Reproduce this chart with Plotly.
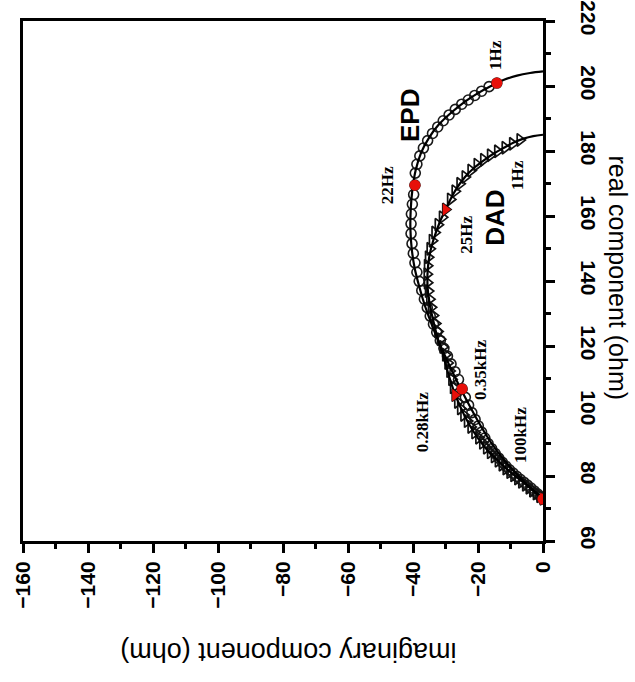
import plotly.graph_objects as go

# Impedance spectra (Nyquist), imaginary vs real component in ohm
epd_imag = [-14.2, -16.6, -18.9, -21.0, -23.0, -25.0, -27.0, -28.9, -30.7, -32.4,
            -34.0, -35.5, -36.8, -37.9, -38.8, -39.3, -39.4, -39.8, -40.2, -40.5,
            -40.6, -40.6, -40.3, -39.9, -39.4, -38.8, -38.1, -37.3, -36.5, -35.6,
            -34.7, -33.7, -32.7, -31.6, -30.5, -29.4, -28.3, -27.1, -26.0, -24.9,
            -23.9, -22.9, -21.9, -20.9, -19.9, -18.9, -17.9, -16.9, -15.8, -14.7,
            -13.6, -12.5, -11.4, -10.3, -9.2, -8.1, -7.0, -5.9, -4.8, -3.7,
            -2.7, -1.7, -0.8, 0.0]
epd_real = [200.9, 199.8, 198.4, 197.1, 195.7, 194.4, 192.8, 191.1, 189.3, 187.4,
            185.4, 183.2, 180.9, 178.5, 175.9, 173.2, 169.5, 166.6, 163.6, 160.6,
            157.6, 154.6, 151.5, 148.5, 145.6, 142.7, 139.9, 137.1, 134.4, 131.8,
            129.2, 126.7, 124.2, 121.7, 119.3, 116.9, 114.5, 112.1, 109.7, 106.8,
            104.2, 101.8, 99.5, 97.4, 95.4, 93.5, 91.7, 90.0, 88.4, 86.9,
            85.5, 84.2, 83.0, 81.9, 80.9, 79.9, 79.0, 78.1, 77.2, 76.3,
            75.4, 74.5, 73.7, 72.9]

dad_imag = [-7.1, -9.4, -11.7, -14.0, -16.2, -18.3, -20.3, -22.2, -24.0, -25.6,
            -27.1, -28.5, -30.0, -31.0, -32.3, -33.3, -34.1, -34.8, -35.3, -35.6,
            -35.7, -35.6, -35.3, -34.9, -34.4, -33.8, -33.1, -32.4, -31.6, -30.8,
            -30.0, -29.3, -28.7, -28.1, -27.6, -27.1, -26.3, -25.4, -24.4, -23.3,
            -22.2, -21.0, -19.8, -18.6, -17.4, -16.2, -15.0, -13.8, -12.6, -11.4,
            -10.2, -9.0, -7.8, -6.6, -5.4, -4.3, -3.2, -2.1, -1.0, 0.0]
dad_real = [183.4, 182.2, 181.0, 179.9, 178.7, 177.3, 175.8, 174.0, 172.0, 169.9,
            167.6, 165.1, 162.0, 159.6, 157.3, 154.9, 152.4, 149.9, 147.3, 144.7,
            142.1, 139.5, 136.9, 134.4, 131.9, 129.4, 126.9, 124.5, 122.1, 119.7,
            117.3, 114.8, 112.3, 109.8, 107.3, 104.9, 102.8, 100.8, 98.8, 96.9,
            95.1, 93.4, 91.8, 90.2, 88.7, 87.3, 86.0, 84.7, 83.5, 82.3,
            81.2, 80.2, 79.2, 78.2, 77.3, 76.4, 75.5, 74.6, 73.8, 73.0]

# equivalent-circuit fit curves
epd_fit_imag = [0, -4, -8, -12, -16, -20, -24, -28, -32, -35, -37.5, -39.2, -40.2,
                -40.7, -40.8, -40.4, -39.5, -38.0, -36.2, -34.0, -31.5, -28.8,
                -25.9, -22.8, -19.5, -15.8, -12.0, -8.0, -4.0, 0]
epd_fit_real = [204.5, 204.0, 203.2, 201.9, 200.0, 197.8, 195.2, 192.0, 188.2,
                184.2, 179.5, 174.0, 168.0, 162.0, 156.0, 150.0, 144.0, 138.0,
                132.0, 126.0, 120.0, 114.0, 108.0, 102.0, 96.0, 90.0, 85.0, 80.5,
                76.5, 72.9]
dad_fit_imag = [0, -3, -6, -9, -12, -15, -18, -21, -24, -27, -29.5, -31.8, -33.6,
                -34.9, -35.5, -35.5, -34.9, -33.8, -32.3, -30.7, -29.0, -27.0,
                -24.6, -21.6, -18.0, -14.0, -10.0, -6.0, -2.5, 0]
dad_fit_real = [185.0, 184.6, 183.8, 182.6, 181.0, 179.3, 177.3, 175.0, 172.0,
                167.8, 163.0, 158.0, 153.0, 148.0, 143.0, 138.0, 133.0, 128.0,
                122.0, 117.0, 111.0, 105.0, 99.5, 94.0, 89.0, 84.8, 81.2, 78.0,
                75.2, 73.0]

# highlighted frequencies (index into the series above)
epd_marked = [0, 16, 39, 63]     # 1Hz, 22Hz, 0.35kHz, 100kHz
dad_marked = [12, 35, 59]        # 25Hz, 0.28kHz, 100kHz

freq_labels = ["1Hz", "22Hz", "0.35kHz", "1Hz", "25Hz", "0.28kHz", "100kHz"]
freq_label_imag = [-14.8, -48.0, -19.4, -8.0, -23.4, -37.2, -7.1]
freq_label_real = [209.5, 169.5, 112.6, 172.6, 154.2, 96.6, 92.6]

series_names = ["EPD", "DAD"]
series_label_imag = [-40.9, -14.8]
series_label_real = [190.8, 159.4]

fig = go.Figure()

fig.add_trace(go.Scatter(x=epd_imag, y=epd_real, mode="markers", name="EPD",
                         marker=dict(symbol="circle-open", size=10, color="#1a1a1a",
                                     line=dict(width=1.6))))
fig.add_trace(go.Scatter(x=dad_imag, y=dad_real, mode="markers", name="DAD",
                         marker=dict(symbol="triangle-right-open", size=11, color="#111",
                                     line=dict(width=1.7))))
fig.add_trace(go.Scatter(x=epd_fit_imag, y=epd_fit_real, mode="lines",
                         line=dict(color="black", width=2.2, shape="spline")))
fig.add_trace(go.Scatter(x=dad_fit_imag, y=dad_fit_real, mode="lines",
                         line=dict(color="black", width=2.2, shape="spline")))
fig.add_trace(go.Scatter(x=[epd_imag[i] for i in epd_marked],
                         y=[epd_real[i] for i in epd_marked], mode="markers",
                         marker=dict(symbol="circle", size=11, color="#e8100a")))
fig.add_trace(go.Scatter(x=[dad_imag[i] for i in dad_marked],
                         y=[dad_real[i] for i in dad_marked], mode="markers",
                         marker=dict(symbol="triangle-right", size=11, color="#e8100a")))

for t, x, y in zip(freq_labels, freq_label_imag, freq_label_real):
    fig.add_annotation(x=x, y=y, text=t, showarrow=False, textangle=-90,
                       font=dict(family="Liberation Serif", size=17, color="black",
                                 weight="bold"))
for t, x, y in zip(series_names, series_label_imag, series_label_real):
    fig.add_annotation(x=x, y=y, text=t, showarrow=False, textangle=-90,
                       font=dict(family="Liberation Sans", size=26, color="black",
                                 weight="bold"))

fig.add_annotation(xref="paper", yref="paper", x=0.51, y=-0.213,
                   xanchor="center", yanchor="middle",
                   text="imaginary component (ohm)", showarrow=False, textangle=180,
                   font=dict(family="Liberation Sans", size=27, color="black"))
fig.add_annotation(xref="paper", yref="paper", x=1.145, y=0.506,
                   xanchor="center", yanchor="middle",
                   text="real component (ohm)", showarrow=False, textangle=90,
                   font=dict(family="Liberation Sans", size=25, color="black"))

axis_common = dict(showline=True, linecolor="black", linewidth=3, mirror=True,
                   showgrid=False, zeroline=False, ticks="outside", ticklen=9,
                   tickwidth=3, tickcolor="black", dtick=20, automargin=False,
                   tickfont=dict(family="Liberation Sans", size=21, color="black",
                                 weight="bold"),
                   minor=dict(ticks="outside", ticklen=5, tickwidth=3,
                              tickcolor="black", dtick=10))

fig.update_xaxes(range=[-160, 0], tickangle=-90, **axis_common)
fig.update_yaxes(range=[60, 220], side="right", tickangle=90,
                 ticklabelstandoff=18, **axis_common)

fig.update_layout(width=635, height=682, showlegend=False,
                  plot_bgcolor="white", paper_bgcolor="white",
                  margin=dict(l=23, r=92, t=21, b=141))

fig.write_html("out.html")
